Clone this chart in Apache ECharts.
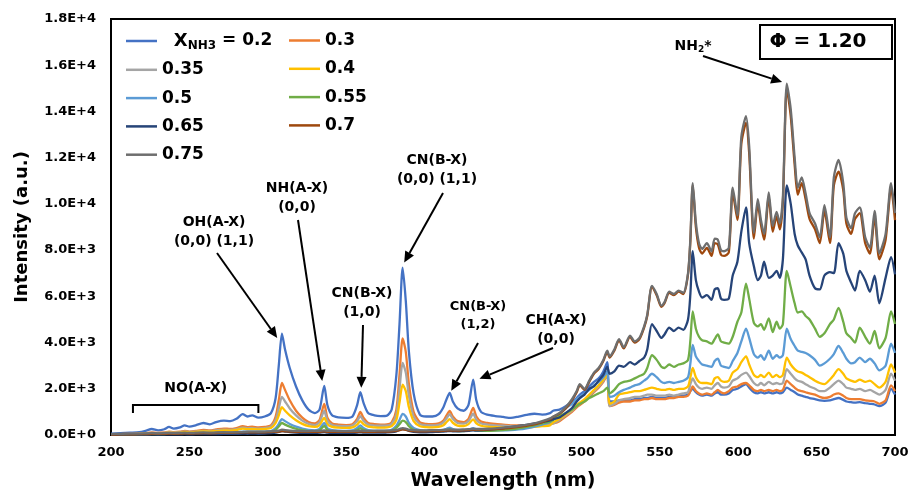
<!DOCTYPE html>
<html>
<head>
<meta charset="utf-8">
<script src="https://cdn.jsdelivr.net/npm/echarts@6/dist/echarts.min.js"></script>
<style>
  html, body { margin: 0; padding: 0; background: #fff; }
  #chart { width: 911px; height: 491px; }
</style>
</head>
<body>
<div id="chart"></div>
<script>
// Emission spectra at phi = 1.20 for several NH3 fractions
const wavelength = [
  200,206,212,218,222,226,230,234,237,240,244,247,250,254,259,263,267,272,276,280,284,287,290,294,298,
  302,305,307,309,311,314,318,322,326,330,333,336,338,341,345,350,354,357,359,361,364,368,372,376,379,382,384,386,388,390,
  393,397,401,405,409,412,414,416,418,421,425,428,431,433,436,440,445,450,455,460,465,470,475,480,
  482,486,490,494,497,499,502,505,508,511,514,516.5,518,521,524,527,531,534,537,540,
  542,545,548,551,553,556,559,562,565,568,569.5,571,573,575,577,580,583,585,587,589,
  591,594,596.5,599.5,602,605,607,610,612.5,614.5,616.5,619.5,622,624.5,626.5,628.5,631,633.5,636,638,
  640.5,643,645.5,649,652,655,658.5,661,664,667,669,672,674.5,677.5,681,684,687,690,694,697.5,700
];

const s02 = [
  60,80,100,120,180,260,200,250,350,280,330,420,360,420,520,460,560,620,600,700,900,800,850,750,800,
  950,1600,3000,4380,3700,2900,2100,1500,1100,950,1100,2120,1300,850,760,740,800,1300,1850,1400,950,850,820,840,1100,2600,4800,7240,5800,3600,
  1800,880,800,800,900,1200,1550,1820,1450,1150,1050,1300,2400,1500,1000,880,820,780,740,800,870,920,880,950,
  1050,1100,1250,1450,1600,1750,1900,2100,2300,2450,2750,3150,1450,1450,1500,1500,1500,1550,1550,1600,
  1600,1650,1600,1600,1600,1650,1650,1700,1700,1750,1900,2000,1850,1750,1700,1750,1700,1800,1850,1750,
  1750,1800,1950,2000,2100,2200,2050,1850,1800,1850,1800,1850,1800,1850,1800,1850,2050,1950,1850,1750,
  1700,1650,1600,1550,1500,1480,1500,1550,1600,1520,1450,1420,1400,1420,1380,1350,1320,1250,1400,2000,1750
];
const s03 = [
  30,40,50,60,80,110,90,110,150,120,140,180,150,180,220,200,240,280,260,300,380,340,360,330,350,
  420,800,1500,2250,1950,1500,1050,750,560,500,650,1350,750,500,450,430,470,700,1000,750,520,470,450,460,550,1100,2600,4180,3600,2200,
  1000,550,480,470,500,620,850,1040,800,600,560,700,1170,800,580,520,480,450,420,420,430,440,450,480,
  500,600,800,1000,1200,1300,1450,1650,1850,2050,2300,2600,1250,1300,1400,1450,1450,1500,1500,1550,
  1550,1600,1550,1550,1550,1600,1600,1650,1650,1700,1900,2100,1900,1800,1750,1800,1750,1850,1950,1850,
  1800,1900,2050,2100,2200,2250,2150,1950,1900,1950,1900,1950,1900,1950,1900,1950,2350,2200,2050,1950,
  1900,1850,1800,1750,1650,1600,1650,1750,1800,1700,1600,1550,1550,1550,1500,1480,1450,1350,1500,2150,1900
];
const s035 = [
  25,35,45,55,70,90,80,90,120,100,120,150,130,150,180,170,200,230,220,250,320,290,300,280,300,
  360,650,1150,1650,1450,1150,850,620,480,430,560,1040,620,430,390,380,410,600,820,620,450,410,400,410,480,900,2000,3120,2700,1700,
  800,470,420,410,440,550,720,900,700,520,490,600,920,650,500,450,420,400,380,380,400,410,420,450,
  500,650,850,1050,1250,1350,1500,1700,1900,2100,2350,2600,1250,1350,1500,1550,1600,1650,1650,1700,
  1750,1750,1700,1700,1700,1750,1700,1750,1800,1850,2200,2450,2200,2050,2000,2050,2000,2150,2250,2100,
  2050,2100,2350,2450,2600,2700,2550,2250,2150,2250,2150,2300,2200,2250,2200,2250,2850,2650,2450,2350,
  2300,2200,2100,2000,1900,1900,2050,2200,2350,2200,2050,2000,1950,2000,1900,1950,1850,1750,1950,2650,2350
];
const s04 = [
  20,30,40,45,60,80,70,80,100,90,100,130,110,130,160,150,170,200,190,220,280,250,260,240,260,
  300,520,850,1200,1050,850,640,480,380,350,430,740,470,350,320,310,330,450,600,470,360,330,320,330,380,650,1400,2180,1900,1200,
  600,380,340,330,350,420,560,690,530,410,390,470,680,500,400,360,340,320,300,310,330,350,380,420,
  550,700,900,1100,1300,1400,1550,1750,1950,2150,2400,2650,1350,1450,1750,1800,1850,1900,1900,1950,
  2000,2050,2000,1950,1950,2000,1950,2000,2000,2100,2500,2900,2500,2300,2250,2250,2200,2450,2500,2350,
  2300,2350,2700,2850,3150,3400,3050,2600,2500,2600,2500,2700,2500,2600,2500,2600,3350,3050,2850,2750,
  2700,2600,2500,2350,2250,2200,2400,2600,2850,2650,2450,2350,2300,2400,2300,2350,2200,2050,2300,3050,2700
];
const s05 = [
  15,20,25,30,40,50,45,50,60,55,60,75,70,80,90,85,95,110,105,120,150,140,145,140,150,
  170,300,480,690,600,480,360,280,220,200,260,520,290,210,190,180,200,300,420,300,210,190,180,190,230,400,650,910,800,520,
  300,210,190,180,190,220,270,320,260,210,200,230,300,240,210,200,200,200,210,240,290,360,450,560,
  700,900,1150,1350,1550,1650,1800,1950,2150,2300,2500,2750,1650,1700,1850,1950,2050,2150,2200,2350,
  2450,2650,2500,2300,2250,2300,2250,2300,2350,2500,3100,3900,3400,3200,3050,3000,2950,3200,3300,3000,
  2950,2900,3200,3550,4050,4600,4200,3500,3350,3450,3250,3650,3300,3450,3350,3450,4600,4150,3850,3650,
  3600,3550,3450,3250,3000,3100,3300,3500,3850,3550,3300,3100,3150,3350,3150,3300,3100,2800,3000,3950,3550
];
const s055 = [
  10,15,20,25,30,40,35,40,50,45,50,60,55,60,70,65,75,85,80,95,115,105,110,105,115,
  130,230,370,520,450,360,270,210,170,160,210,390,220,160,150,140,150,220,300,220,160,150,140,150,180,320,470,620,560,380,
  230,170,150,150,160,180,210,240,200,170,170,190,230,200,180,180,190,210,240,290,350,420,500,580,
  650,820,950,1100,1250,1350,1450,1600,1700,1800,1900,2050,1800,1950,2200,2300,2350,2450,2550,2650,
  2900,3450,3250,2950,2900,3050,2950,3050,3100,3250,4100,5350,4600,4250,4100,4050,3950,4150,4350,4050,
  4000,3950,4250,4900,5300,6550,5900,4850,4700,4800,4550,5050,4450,4900,4600,4800,7100,6400,5700,5300,
  5350,5150,5000,4600,4250,4400,4800,5000,5500,4900,4400,4200,4000,4650,4250,3950,4500,3750,4200,5350,4800
];
const s065 = [
  10,12,15,18,20,25,22,25,30,28,30,35,32,35,40,38,42,48,45,50,60,55,58,55,60,
  80,100,130,170,150,120,100,90,90,90,100,130,100,90,90,90,90,100,120,100,100,100,100,110,120,160,220,260,240,180,
  140,120,120,130,140,150,160,170,160,160,170,180,200,190,200,220,250,290,340,390,440,500,560,630,
  680,760,950,1170,1450,1600,1750,2000,2100,2350,2600,2950,2650,2750,3000,2950,3150,3050,3200,3350,
  3700,4800,4500,4200,4350,4650,4500,4650,4550,5000,6100,7950,6700,6200,5950,6050,5850,6300,6350,5900,
  5850,5900,6900,7500,8800,9850,8300,7300,6700,6900,7500,6800,6900,7100,6800,7600,10800,10000,8700,8200,
  7900,7600,6900,6350,6300,6900,7050,7000,8300,7850,7100,6600,6250,7100,6700,6200,6900,5700,6800,7700,6950
];
const s07 = [
  20,25,30,35,40,50,45,50,60,55,60,70,65,70,80,75,85,95,90,100,115,110,115,110,120,
  130,135,145,170,160,150,140,135,135,140,140,155,140,140,135,135,135,140,150,140,140,140,150,150,160,180,210,240,225,190,
  170,160,160,170,170,180,190,200,190,190,200,210,230,220,220,230,250,280,310,350,400,460,560,680,
  780,920,1150,1500,1850,2150,1950,2300,2650,2850,3200,3600,3350,3650,4100,3750,4250,4000,4150,4650,
  5150,6400,6050,5550,5700,6150,6050,6200,6100,6950,8400,10800,9000,8100,7850,8100,7750,8300,8250,7800,
  7750,7900,10500,9300,12600,13500,12200,8500,10000,9100,8450,10300,8800,9450,8900,10100,15000,13800,11700,10400,
  10900,10200,9350,8900,8300,9700,8300,10800,11400,10600,9150,8700,9350,9600,8300,7850,9450,7600,8450,10700,9300
];
const s075 = [
  40,50,60,60,70,80,70,80,90,80,90,100,90,100,110,100,110,120,110,120,130,140,150,140,150,
  160,170,190,230,210,190,180,170,170,180,180,200,180,180,170,170,170,180,190,180,180,180,190,190,200,220,260,300,280,230,
  210,200,200,210,210,220,230,240,230,230,240,250,270,260,260,270,290,320,350,390,440,500,600,720,
  800,950,1200,1550,1900,2200,2000,2350,2700,2900,3250,3650,3400,3700,4150,3800,4300,4050,4200,4700,
  5200,6450,6100,5600,5750,6200,6100,6250,6150,7000,8500,10900,9200,8300,8050,8300,7950,8500,8450,8000,
  7950,8100,10700,9500,12900,13800,12500,8750,10200,9300,8700,10500,9050,9650,9150,10300,15200,14100,12000,10700,
  11150,10450,9600,9150,8550,9950,8550,11150,11900,10900,9400,8950,9600,9850,8550,8100,9700,7850,8700,10900,9600
];

const seriesNames = ['0.2', '0.3', '0.35', '0.4', '0.5', '0.55', '0.65', '0.7', '0.75'];
const seriesValues = [s02, s03, s035, s04, s05, s055, s065, s07, s075];
const seriesColors = ['#4472C4', '#ED7D31', '#A5A5A5', '#FFC000', '#5B9BD5', '#70AD47', '#264478', '#9E480E', '#6E6E6E'];
const legendLeft = ['0.2', '0.35', '0.5', '0.65', '0.75'];
const legendRight = ['0.3', '0.4', '0.55', '0.7'];

const xRange = { min: 200, max: 700, interval: 50 };
const yRange = { min: 0, max: 18000, interval: 2000 };

const FONT = '"DejaVu Sans", sans-serif';

const chart = echarts.init(document.getElementById('chart'), null, { renderer: 'canvas' });

const legendText = {
  fontFamily: FONT, fontWeight: 'bold', fontSize: 17, color: '#000', lineHeight: 20,
  rich: {
    big: { fontFamily: FONT, fontWeight: 'bold', fontSize: 18, color: '#000', lineHeight: 20 },
    sub: { fontFamily: FONT, fontWeight: 'bold', fontSize: 12, color: '#000', lineHeight: 20, padding: [9, 0, 0, 0] },
    txt: { fontFamily: FONT, fontWeight: 'bold', fontSize: 17, color: '#000', lineHeight: 20 }
  }
};
function legendLabel(name) {
  if (name === '0.2') return '  {big|X}{sub|NH3}{txt| = 0.2}';
  return name;
}
function makeLegend(names, left) {
  return {
    data: names, orient: 'vertical', left: left, top: 30.5,
    itemGap: 8.3, itemWidth: 31, itemHeight: 2.5, icon: 'rect',
    selectedMode: false, padding: 0,
    textStyle: legendText, formatter: legendLabel
  };
}

chart.setOption({
  animation: false,
  backgroundColor: '#fff',
  grid: {
    left: 111, right: 16, top: 19, bottom: 56, outerBoundsMode: 'none',
    show: true, borderColor: '#000', borderWidth: 2, backgroundColor: 'transparent'
  },
  legend: [makeLegend(legendLeft, 126), makeLegend(legendRight, 289)],
  xAxis: {
    type: 'value', min: xRange.min, max: xRange.max, interval: xRange.interval,
    name: 'Wavelength (nm)', nameLocation: 'middle', nameGap: 37,
    nameTextStyle: { fontFamily: FONT, fontWeight: 'bold', fontSize: 19, color: '#000' },
    axisLine: { lineStyle: { color: '#000', width: 2 } },
    axisTick: { show: false },
    splitLine: { show: false },
    axisLabel: { margin: 11, color: '#000', fontFamily: FONT, fontWeight: 'bold', fontSize: 13 }
  },
  yAxis: {
    type: 'value', min: yRange.min, max: yRange.max, interval: yRange.interval,
    name: 'Intensity (a.u.)', nameLocation: 'middle', nameGap: 80,
    nameTextStyle: { fontFamily: FONT, fontWeight: 'bold', fontSize: 18, color: '#000' },
    axisLine: { show: true, lineStyle: { color: '#000', width: 2 } },
    axisTick: { show: false },
    splitLine: { show: false },
    axisLabel: {
      margin: 15, color: '#000', fontFamily: FONT, fontWeight: 'bold', fontSize: 13,
      formatter: v => v.toExponential(1).toUpperCase()
    }
  },
  series: seriesNames.map((name, k) => ({
    name: name, type: 'line', showSymbol: false, smooth: 0.25,
    lineStyle: { width: 2.3, color: seriesColors[k] },
    itemStyle: { color: seriesColors[k] },
    data: wavelength.map((w, i) => [w, seriesValues[k][i]])
  }))
});

// Band assignments: text position (px) and arrow from a start point to a spot on the spectrum (data coords)
const bandNotes = [
  { lines: ['OH(A-X)', '(0,0) (1,1)'], x: 214, y: 222, from: [217, 253], to: [306, 4200] },
  { lines: ['NH(A-X)', '(0,0)'], x: 297, y: 188, from: [298, 220], to: [334.7, 2340] },
  { lines: ['CN(B-X)', '(1,0)'], x: 362, y: 293, from: [363, 325], to: [359.6, 2040] },
  { lines: ['CN(B-X)', '(0,0) (1,1)'], x: 437, y: 160, from: [443, 193], to: [387, 7460] },
  { lines: ['CN(B-X)', '(1,2)'], x: 478, y: 307, from: [478, 343], to: [417, 1910], size: 13, gap: 18 },
  { lines: ['CH(A-X)', '(0,0)'], x: 556, y: 320, from: [553, 348], to: [435, 2430] },
  { lines: [], x: 0, y: 0, from: [703, 56], to: [628, 15270] }
];
const noBracket = { from: 214, to: 294, top: 1300, tick: 950 };

function arrow(x1, y1, x2, y2) {
  const a = Math.atan2(y2 - y1, x2 - x1);
  const hl = 11, hw = 5;
  const bx = x2 - hl * Math.cos(a), by = y2 - hl * Math.sin(a);
  return [
    { type: 'line', silent: true, shape: { x1: x1, y1: y1, x2: bx, y2: by }, style: { stroke: '#000', lineWidth: 2 } },
    { type: 'polygon', silent: true, shape: { points: [[x2, y2], [bx + hw * Math.sin(a), by - hw * Math.cos(a)], [bx - hw * Math.sin(a), by + hw * Math.cos(a)]] }, style: { fill: '#000' } }
  ];
}
function label(text, x, y, size, rich) {
  return {
    type: 'text', silent: true,
    style: { text: text, x: x, y: y, align: 'center', verticalAlign: 'middle', fill: '#000',
      fontFamily: FONT, fontWeight: 'bold', fontSize: size, rich: rich }
  };
}

const g = [];
bandNotes.forEach(n => {
  n.lines.forEach((t, i) => g.push(label(t, n.x, n.y + i * (n.gap || 19.5), n.size || 14)));
  const p = chart.convertToPixel({ gridIndex: 0 }, n.to);
  g.push(...arrow(n.from[0], n.from[1], p[0], p[1]));
});
// NH2* emission
g.push(label('NH{s|2}*', 693, 46, 14, { s: { fontFamily: FONT, fontWeight: 'bold', fontSize: 9, padding: [7, 0, 0, 0] } }));
// NO(A-X) band range
const b1 = chart.convertToPixel({ gridIndex: 0 }, [noBracket.from, noBracket.top]);
const b2 = chart.convertToPixel({ gridIndex: 0 }, [noBracket.to, noBracket.tick]);
g.push({ type: 'polyline', silent: true, shape: { points: [[b1[0], b2[1]], [b1[0], b1[1]], [b2[0], b1[1]], [b2[0], b2[1]]] }, style: { stroke: '#000', lineWidth: 2, fill: null } });
g.push(label('NO(A-X)', (b1[0] + b2[0]) / 2, 388, 14));
// Equivalence ratio box
g.push({ type: 'rect', silent: true, shape: { x: 760, y: 25, width: 132, height: 34 }, style: { stroke: '#000', lineWidth: 2, fill: '#fff' } });
g.push(label('Φ = 1.20', 818, 42, 20));

chart.setOption({ graphic: g });
</script>
</body>
</html>
